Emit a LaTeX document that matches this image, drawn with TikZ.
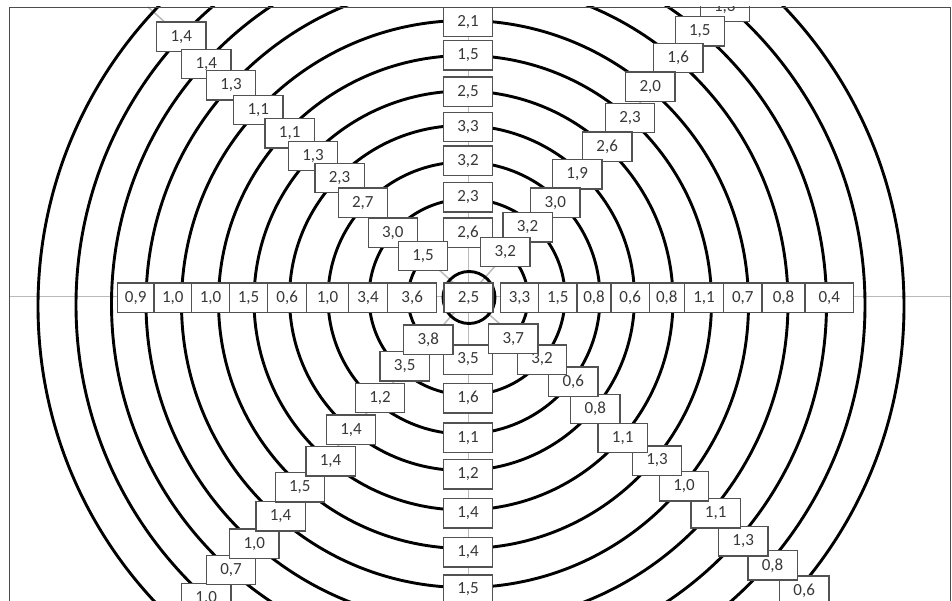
\documentclass[tikz,border=0pt]{standalone}
\usepackage{fontspec}
\setmainfont{Carlito}

\begin{document}
\begin{tikzpicture}[
  x=1pt, y=-1pt,
  ring/.style={line width=2.9pt, black},
  axis/.style={line width=1.5pt, black!27},
  cell/.style={draw=black!68, line width=1.3pt, fill=white, inner sep=0pt,
               minimum width=49.3pt, minimum height=29.3pt,
               font=\fontsize{17}{19}\selectfont, text=black!78},
  frame/.style={draw=black!70, line width=0.9pt},
]
\useasboundingbox (0,0) rectangle (952,601);

\begin{scope}
\clip (9,7) rectangle (950,601);

% axes through the centre
\coordinate (o) at (468.3,296.3);
\coordinate (west) at (9,296.3);
\coordinate (east) at (950,296.3);
\coordinate (north) at (468.3,7);
\coordinate (south) at (468.3,601);
\coordinate (nw) at (148,7);
\coordinate (ne) at (725,7);
\coordinate (sw) at (203,601);
\coordinate (se) at (816,601);
\foreach \e in {west,east,north,south,nw,ne,sw,se}
  \draw[axis] (o) -- (\e);

% rings
\foreach \cx/\cy/\r in {469/297.5/26, 468/298/60, 467/297/98, 464/298/136,
    462/298/172.5, 463.5/300.5/209.5, 465/302/246.5, 465/304/283.5,
    467/303/321, 469/304/357.5, 470.5/305/394.5, 471/306/433}
  \draw[ring] (\cx,\cy) circle[radius=\r pt];

% horizontal row
\node[cell, minimum width=49pt] (mid) at (468.5,297.7) {2,5};
\foreach \a/\b/\t [count=\i] in {117.3/154/{0,9}, 154/191.7/{1,0},
    191.7/229.3/{1,0}, 229.3/267.7/{1,5}, 267.7/306.7/{0,6},
    306.7/348.3/{1,0}, 348.3/387.7/{3,4}, 387.7/436.7/{3,6},
    500.3/538.7/{3,3}, 538.7/577/{1,5}, 577/611/{0,8}, 611/649.3/{0,6},
    649.3/684.3/{0,8}, 684.3/723.7/{1,1}, 723.7/762/{0,7}, 762/805/{0,8},
    805/853.7/{0,4}}{
  \pgfmathsetmacro\w{\b-\a}
  \node[cell, minimum width=\w pt] (h\i) at ({(\a+\b)/2},297.7) {\t};
}

% vertical column
\foreach \y/\t [count=\i] in {22.2/{2,1}, 55.3/{1,5}, 91.7/{2,5},
    127.2/{3,3}, 160.8/{3,2}, 197.3/{2,3}, 232.8/{2,6}, 359.5/{3,5},
    398.3/{1,6}, 437.7/{1,1}, 474.3/{1,2}, 513.3/{1,4}, 552.3/{1,4},
    589.5/{1,5}}
  \node[cell] (v\i) at (468,\y) {\t};

% diagonals
\foreach \x/\y/\t [count=\i] in {181.3/36.7/{1,4}, 206.3/64.2/{1,4},
    231/85.3/{1,3}, 258.3/110/{1,1}, 289.7/133.3/{1,1}, 313/156.2/{1,3},
    339.5/178/{2,3}, 362.8/202.8/{2,7}, 392.8/232.8/{3,0}, 423/256.2/{1,5}}
  \node[cell] (ul\i) at (\x,\y) {\t};
\foreach \x/\y/\t [count=\i] in {724.8/7.1/{1,3}, 699.8/31.3/{1,5},
    678.2/58/{1,6}, 650.3/86.7/{2,0}, 630/118/{2,3}, 607.2/146.7/{2,6},
    577.2/174.5/{1,9}, 555.3/202.8/{3,0}, 527.5/227.5/{3,2}, 505.3/252/{3,2}}
  \node[cell] (ur\i) at (\x,\y) {\t};
\foreach \x/\y/\t [count=\i] in {206.2/597.9/{1,0}, 231/570/{0,7},
    254.3/543.7/{1,0}, 280.5/516.2/{1,4}, 299.8/487.2/{1,5},
    330.5/461.2/{1,4}, 351/429.7/{1,4}, 380/398/{1,2}, 404.7/366.2/{3,5},
    428.3/339.5/{3,8}}
  \node[cell] (ll\i) at (\x,\y) {\t};
\foreach \x/\y/\t [count=\i] in {804.2/590.6/{0,6}, 772.5/565.3/{0,8},
    743.2/541.2/{1,3}, 715.7/513.3/{1,1}, 684/486.2/{1,0}, 657/460.5/{1,3},
    622.7/438/{1,1}, 595.3/408.8/{0,8}, 573.3/381.7/{0,6}, 542/359.5/{3,2},
    513.3/338.7/{3,7}}
  \node[cell] (lr\i) at (\x,\y) {\t};
\end{scope}

\draw[frame] (9,601) -- (9,7) -- (950,7) -- (950,601);

\end{tikzpicture}
\end{document}
